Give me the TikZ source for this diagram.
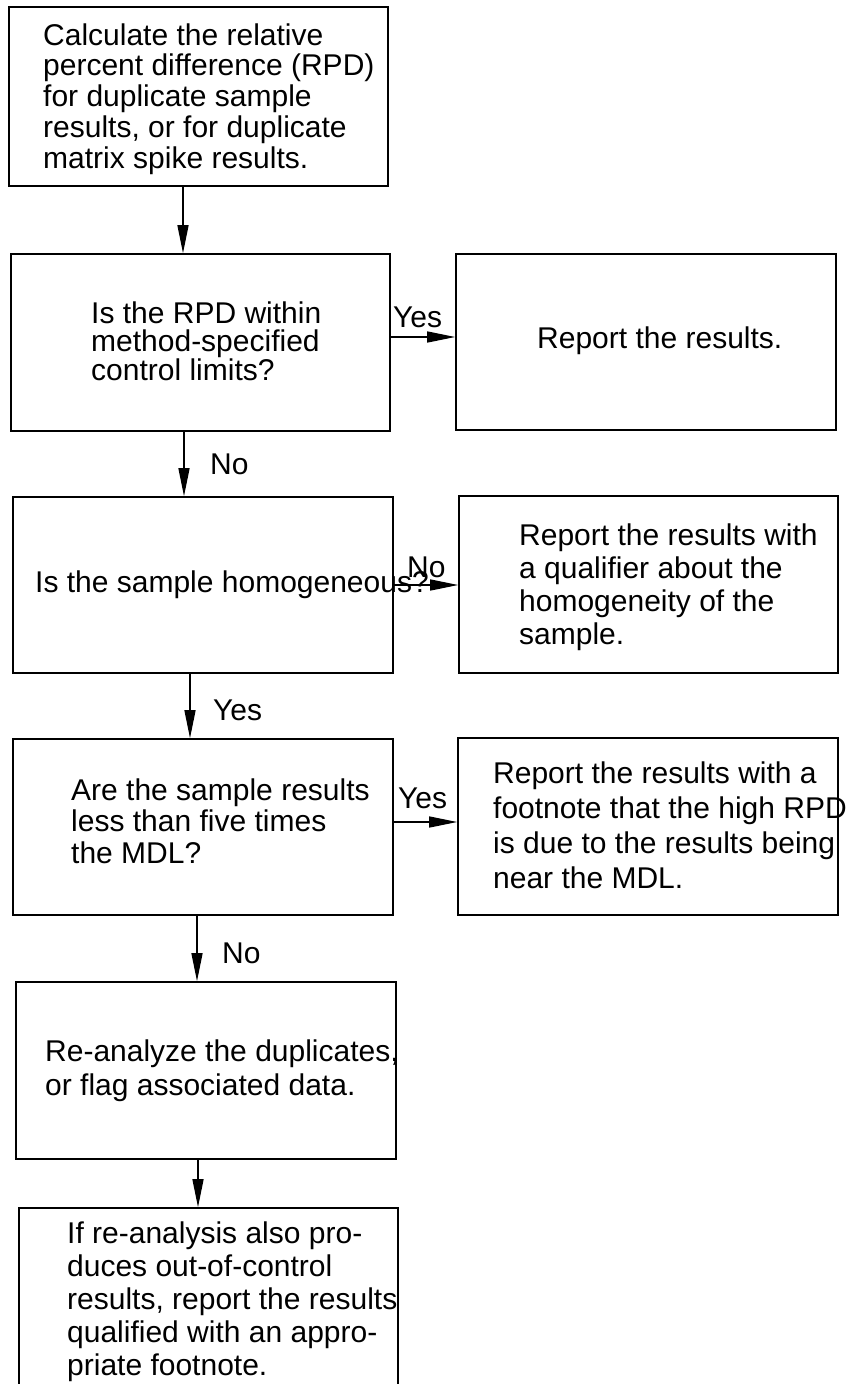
\documentclass[tikz,border=0pt]{standalone}
\usepackage{fontspec}
\setmainfont{Liberation Sans}
\usetikzlibrary{arrows.meta}
\newcommand\txtlines[2]{\vtop{\baselineskip=#1\lineskiplimit=-\maxdimen\lineskip=0pt\halign{##\hfil\cr#2\crcr}}}
\begin{document}
\begin{tikzpicture}[x=1pt,y=-1pt,
  box/.style={draw=black, line width=1.6pt, rectangle, inner sep=0pt},
  txt/.style={anchor=base west, inner sep=0pt, font=\fontsize{30}{31}\selectfont},
  lbl/.style={anchor=base west, inner sep=0pt, font=\fontsize{30}{31}\selectfont},
  arr/.style={line width=1.4pt, -{Triangle[length=28pt,width=11pt]}}]
\fill[white] (0,0) rectangle (852,1384);
\useasboundingbox (0,0) rectangle (852,1384);
\clip (0,0) rectangle (852,1384);

% boxes
\node[box, minimum width=379pt, minimum height=179pt] (b1) at (198.5,96.5) {};
\node[box, minimum width=379pt, minimum height=177pt] (b2) at (200.5,342.5) {};
\node[box, minimum width=380pt, minimum height=176pt] (r1) at (646,342) {};
\node[box, minimum width=380pt, minimum height=176pt] (b3) at (203,585) {};
\node[box, minimum width=379pt, minimum height=177pt] (r2) at (648.5,584.5) {};
\node[box, minimum width=380pt, minimum height=176pt] (b4) at (203,827) {};
\node[box, minimum width=380pt, minimum height=177pt] (r3) at (648,826.5) {};
\node[box, minimum width=380pt, minimum height=177pt] (b5) at (206,1070.5) {};
\node[box, minimum width=379pt, minimum height=202pt] (b6) at (208.5,1309) {};

% texts
\node[txt] (t1) at (43,45) {\txtlines{30.8pt}{Calculate the relative\cr percent difference (RPD)\cr for duplicate sample\cr results, or for duplicate\cr matrix spike results.}};
\node[txt] (t2) at (91,323) {\txtlines{28.5pt}{Is the RPD within\cr method-specified\cr control limits?}};
\node[txt] (tr1) at (537,348) {Report the results.};
\node[txt] (t3) at (35,592) {Is the sample homogeneous?};
\node[txt] (tr2) at (519,545) {\txtlines{33.3pt}{Report the results with\cr a qualifier about the\cr homogeneity of the\cr sample.}};
\node[txt] (t4) at (71,800) {\txtlines{31.5pt}{Are the sample results\cr less than five times\cr the MDL?}};
\node[txt] (tr3) at (493,783) {\txtlines{35pt}{Report the results with a\cr footnote that the high RPD\cr is due to the results being\cr near the MDL.}};
\node[txt] (t5) at (45,1061) {\txtlines{34pt}{Re-analyze the duplicates,\cr or flag associated data.}};
\node[txt] (t6) at (67,1243) {\txtlines{33pt}{If re-analysis also pro-\cr duces out-of-control\cr results, report the results\cr qualified with an appro-\cr priate footnote.}};

% labels
\node[lbl] (l1) at (393,327) {Yes};
\node[lbl] (l2) at (210,474) {No};
\node[lbl] (l3) at (407,577) {No};
\node[lbl] (l4) at (213,720) {Yes};
\node[lbl] (l5) at (398,808) {Yes};
\node[lbl] (l6) at (222,963) {No};

% connectors
\coordinate (v1) at (183,0);
\coordinate (v2) at (184,0);
\coordinate (v3) at (190,0);
\coordinate (v4) at (197,0);
\coordinate (v5) at (198,0);
\coordinate (h1) at (0,337);
\coordinate (h2) at (0,585);
\coordinate (h3) at (0,822);
\draw[arr] (b1.south -| v1) -- (b2.north -| v1);
\draw[arr] (b2.south -| v2) -- (b3.north -| v2);
\draw[arr] (b3.south -| v3) -- (b4.north -| v3);
\draw[arr] (b4.south -| v4) -- (b5.north -| v4);
\draw[arr] (b5.south -| v5) -- (b6.north -| v5);
\draw[arr] (b2.east |- h1) -- (r1.west |- h1);
\draw[arr] (b3.east |- h2) -- (r2.west |- h2);
\draw[arr] (b4.east |- h3) -- (r3.west |- h3);
\end{tikzpicture}
\end{document}
